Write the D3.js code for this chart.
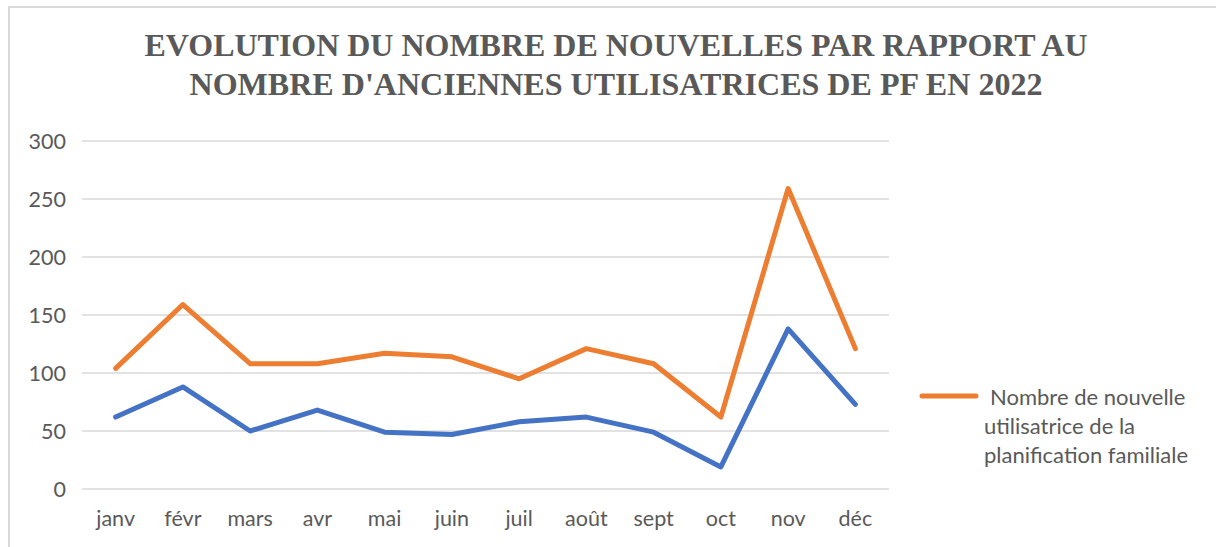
<!DOCTYPE html>
<html>
<head>
<meta charset="utf-8">
<script src="https://cdn.jsdelivr.net/npm/d3@7"></script>
<style>
  body { margin: 0; background: #fff; }
  svg { display: block; }
</style>
</head>
<body>
<script>
// Données
mois = ["janv", "févr", "mars", "avr", "mai", "juin", "juil", "août", "sept", "oct", "nov", "déc"];
nouvelles = [104, 159, 108, 108, 117, 114, 95, 121, 108, 62, 259, 121];
anciennes = [62, 88, 50, 68, 49, 47, 58, 62, 49, 19, 138, 73];
graduations = [0, 50, 100, 150, 200, 250, 300];
titre = ["EVOLUTION DU NOMBRE DE NOUVELLES PAR RAPPORT AU", "NOMBRE D'ANCIENNES UTILISATRICES DE PF EN 2022"];
legende = ["Nombre de nouvelle", "utilisatrice de la", "planification familiale"];

width = 1216;
height = 547;
margin = {left: 82, right: 889, top: 141, bottom: 489};
police = "Lato, 'Open Sans', sans-serif";

svg = d3.select("body").append("svg")
    .attr("width", width)
    .attr("height", height);

// Cadre gris du graphique
svg.append("rect")
    .attr("x", 9).attr("y", 7)
    .attr("width", width).attr("height", height)
    .attr("fill", "none")
    .attr("stroke", "#d9d9d9")
    .attr("stroke-width", 2);

// Titre
svg.selectAll("text.titre")
    .data(titre)
    .enter().append("text")
    .attr("class", "titre")
    .attr("x", 616)
    .attr("y", (d, i) => 56 + i * 39)
    .attr("text-anchor", "middle")
    .attr("font-family", "'Liberation Serif', 'Times New Roman', serif")
    .attr("font-weight", "bold")
    .attr("font-size", 31)
    .attr("fill", "#595959")
    .attr("textLength", (d, i) => i == 0 ? 943 : 853)
    .attr("lengthAdjust", "spacingAndGlyphs")
    .text(d => d);

x = d3.scaleBand()
    .domain(mois)
    .range([margin.left, margin.right]);

y = d3.scaleLinear()
    .domain([0, 300])
    .range([margin.bottom, margin.top]);

// Lignes de grille horizontales
svg.selectAll("line.grille")
    .data(graduations)
    .enter().append("line")
    .attr("class", "grille")
    .attr("x1", margin.left).attr("x2", margin.right)
    .attr("y1", d => y(d)).attr("y2", d => y(d))
    .attr("stroke", "#d9d9d9")
    .attr("stroke-width", 1.5);

// Axe Y
yAxis = svg.append("g")
    .attr("transform", `translate(${margin.left - 16},0)`)
    .call(d3.axisLeft(y).tickValues(graduations).tickSize(0).tickPadding(0));
yAxis.select(".domain").remove();

// Axe X
xAxis = svg.append("g")
    .attr("transform", `translate(0,${margin.bottom + 20})`)
    .call(d3.axisBottom(x).tickSize(0).tickPadding(0));
xAxis.select(".domain").remove();

svg.selectAll(".tick text")
    .attr("font-family", police)
    .attr("font-size", 21.5)
    .attr("fill", "#595959");
xAxis.selectAll(".tick text").attr("dy", "0.8em");
yAxis.selectAll(".tick text").attr("dy", "0.35em");

line = d3.line()
    .x((d, i) => x(mois[i]) + x.bandwidth() / 2)
    .y(d => y(d));

// Courbes
svg.append("path")
    .datum(anciennes)
    .attr("d", line)
    .attr("fill", "none")
    .attr("stroke", "#4472c4")
    .attr("stroke-width", 5)
    .attr("stroke-linecap", "round")
    .attr("stroke-linejoin", "round");

svg.append("path")
    .datum(nouvelles)
    .attr("d", line)
    .attr("fill", "none")
    .attr("stroke", "#ed7d31")
    .attr("stroke-width", 5)
    .attr("stroke-linecap", "round")
    .attr("stroke-linejoin", "round");

// Légende
svg.append("line")
    .attr("x1", 922).attr("x2", 976)
    .attr("y1", 396).attr("y2", 396)
    .attr("stroke", "#ed7d31")
    .attr("stroke-width", 5)
    .attr("stroke-linecap", "round");

svg.selectAll("text.legende")
    .data(legende)
    .enter().append("text")
    .attr("class", "legende")
    .attr("x", (d, i) => i == 0 ? 990 : 984)
    .attr("y", (d, i) => 397 + i * 29)
    .attr("dy", "0.35em")
    .attr("font-family", police)
    .attr("font-size", 22)
    .attr("fill", "#595959")
    .text(d => d);
</script>
</body>
</html>
